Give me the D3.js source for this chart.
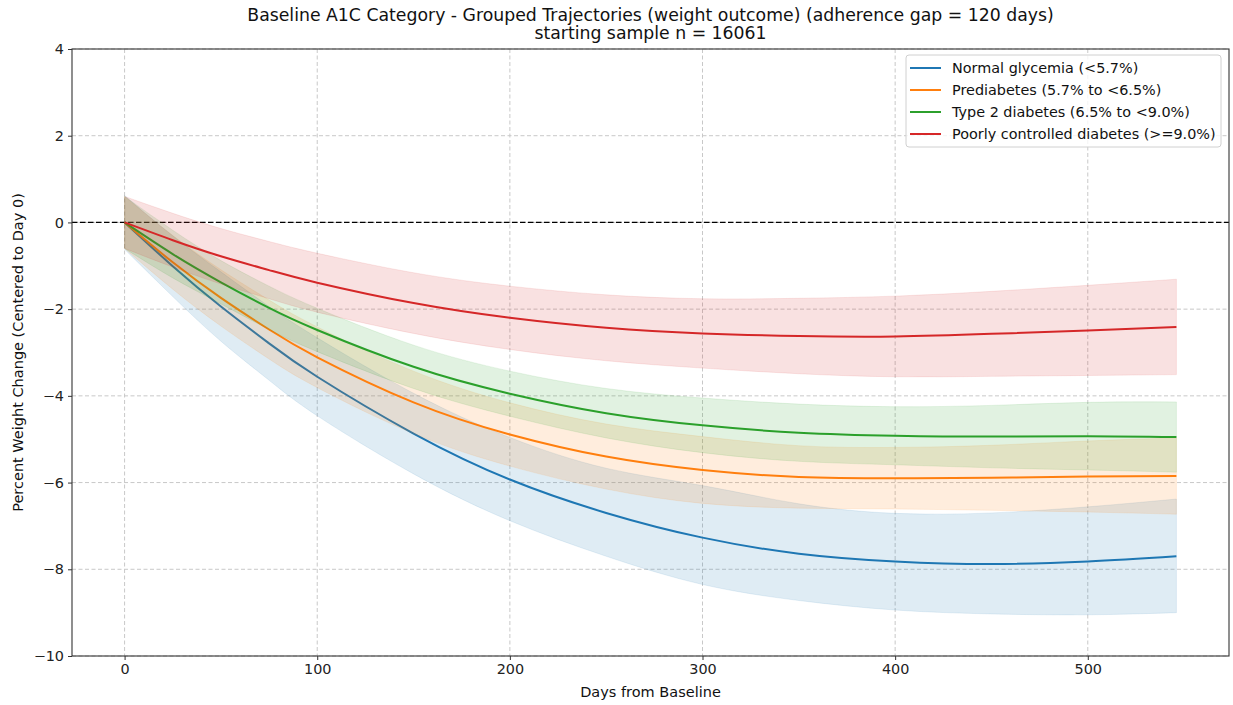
<!DOCTYPE html>
<html>
<head>
<meta charset="utf-8">
<script src="https://cdn.jsdelivr.net/npm/d3@7"></script>
<style>
  html, body { margin: 0; padding: 0; background: #fff; }
  svg { display: block; font-family: "DejaVu Sans", sans-serif; }
</style>
</head>
<body>
<svg id="chart" width="1233" height="705"></svg>
<script>
// Days from baseline at which each trajectory is sampled
const days = [0, 25, 50, 75, 100, 150, 200, 250, 300, 350, 400, 450, 500, 546];

const groupNames = [
  "Normal glycemia (<5.7%)",
  "Prediabetes (5.7% to <6.5%)",
  "Type 2 diabetes (6.5% to <9.0%)",
  "Poorly controlled diabetes (>=9.0%)"
];
const groupColors = ["#1f77b4", "#ff7f0e", "#2ca02c", "#d62728"];

// Mean percent weight change per group
const normalMean = [0, -1.01, -1.94, -2.79, -3.56, -4.87, -5.93, -6.70, -7.27, -7.64, -7.82, -7.88, -7.82, -7.70];
const prediabMean = [0, -0.92, -1.74, -2.47, -3.11, -4.15, -4.89, -5.40, -5.71, -5.87, -5.90, -5.89, -5.86, -5.85];
const t2dMean = [0, -0.73, -1.38, -1.97, -2.48, -3.33, -3.95, -4.40, -4.68, -4.85, -4.92, -4.94, -4.93, -4.95];
const poorMean = [0, -0.41, -0.78, -1.10, -1.39, -1.86, -2.20, -2.43, -2.56, -2.62, -2.63, -2.57, -2.49, -2.41];

// Confidence band edges per group
const normalUpper = [0.62, -0.31, -1.14, -1.94, -2.66, -3.94, -4.96, -5.67, -6.07, -6.49, -6.71, -6.70, -6.56, -6.38];
const normalLower = [-0.62, -1.71, -2.74, -3.64, -4.46, -5.80, -6.88, -7.70, -8.35, -8.72, -8.94, -9.03, -9.05, -9.00];
const prediabUpper = [0.60, -0.30, -1.09, -1.79, -2.41, -3.43, -4.16, -4.65, -4.94, -5.15, -5.19, -5.14, -5.04, -4.97];
const prediabLower = [-0.60, -1.54, -2.39, -3.15, -3.81, -4.87, -5.62, -6.15, -6.48, -6.59, -6.61, -6.64, -6.68, -6.73];
const t2dUpper = [0.60, -0.18, -0.88, -1.47, -1.98, -2.83, -3.43, -3.83, -4.05, -4.19, -4.25, -4.22, -4.15, -4.14];
const t2dLower = [-0.60, -1.28, -1.88, -2.47, -2.98, -3.83, -4.47, -4.97, -5.31, -5.51, -5.59, -5.66, -5.71, -5.76];
const poorUpper = [0.60, 0.21, -0.14, -0.44, -0.71, -1.16, -1.47, -1.67, -1.76, -1.75, -1.70, -1.59, -1.45, -1.31];
const poorLower = [-0.60, -1.03, -1.42, -1.76, -2.07, -2.56, -2.93, -3.19, -3.36, -3.49, -3.56, -3.55, -3.53, -3.51];

const xTicks = [0, 100, 200, 300, 400, 500];
const yTicks = [-10, -8, -6, -4, -2, 0, 2, 4];

const titleLines = [
  "Baseline A1C Category - Grouped Trajectories (weight outcome) (adherence gap = 120 days)",
  "starting sample n = 16061"
];
const xLabel = "Days from Baseline";
const yLabel = "Percent Weight Change (Centered to Day 0)";

const groups = [
  { mean: normalMean, upper: normalUpper, lower: normalLower },
  { mean: prediabMean, upper: prediabUpper, lower: prediabLower },
  { mean: t2dMean, upper: t2dUpper, lower: t2dLower },
  { mean: poorMean, upper: poorUpper, lower: poorLower }
].map((g, i) => ({ ...g, name: groupNames[i], color: groupColors[i] }));

const svg = d3.select("#chart");
const plot = { left: 72, right: 1229, top: 49, bottom: 656 };

const x = d3.scaleLinear().domain([-27.3, 573.3]).range([plot.left, plot.right]);
const y = d3.scaleLinear().domain([-10, 4]).range([plot.bottom, plot.top]);

// Grid
const grid = svg.append("g");
grid.selectAll("line.gx").data(xTicks).join("line")
  .attr("x1", d => x(d)).attr("x2", d => x(d))
  .attr("y1", plot.top).attr("y2", plot.bottom)
  .attr("stroke", "#c8c8c8").attr("stroke-width", 1).attr("stroke-dasharray", "4,2.5");
grid.selectAll("line.gy").data(yTicks).join("line")
  .attr("x1", plot.left).attr("x2", plot.right)
  .attr("y1", d => y(d)).attr("y2", d => y(d))
  .attr("stroke", "#c8c8c8").attr("stroke-width", 1).attr("stroke-dasharray", "4,2.5");

// Zero reference line
svg.append("line")
  .attr("x1", plot.left).attr("x2", plot.right)
  .attr("y1", y(0)).attr("y2", y(0))
  .attr("stroke", "#000").attr("stroke-width", 1.3).attr("stroke-dasharray", "5.5,2.5");

const lineGen = d3.line().x((d, i) => x(days[i])).y(d => y(d)).curve(d3.curveNatural);
const areaGen = d3.area()
  .x(d => x(d.day)).y0(d => y(d.lo)).y1(d => y(d.hi))
  .curve(d3.curveNatural);

const marks = svg.append("g");
groups.forEach(g => {
  marks.append("path")
    .attr("d", lineGen(g.mean))
    .attr("fill", "none").attr("stroke", g.color).attr("stroke-width", 2);
  const band = days.map((d, i) => ({ day: d, lo: g.lower[i], hi: g.upper[i] }));
  marks.append("path")
    .attr("d", areaGen(band))
    .attr("fill", g.color).attr("fill-opacity", 0.14)
    .attr("stroke", g.color).attr("stroke-opacity", 0.1).attr("stroke-width", 1);
});

// Axes
const xAxis = d3.axisBottom(x).tickValues(xTicks).tickSize(4).tickPadding(4).tickFormat(d3.format("d"));
const yAxis = d3.axisLeft(y).tickValues(yTicks).tickSize(4).tickPadding(4)
  .tickFormat(d => d < 0 ? "\u2212" + Math.abs(d) : String(d));

const gx = svg.append("g").attr("transform", `translate(0,${plot.bottom})`).call(xAxis);
const gy = svg.append("g").attr("transform", `translate(${plot.left},0)`).call(yAxis);
[gx, gy].forEach(g => {
  g.select(".domain").remove();
  g.selectAll(".tick line").attr("stroke", "#333").attr("stroke-width", 1);
  g.selectAll(".tick text").attr("fill", "#222").style("font-size", "14.4px")
    .style("font-family", "DejaVu Sans, sans-serif");
});

// Frame
svg.append("rect")
  .attr("x", plot.left).attr("y", plot.top)
  .attr("width", plot.right - plot.left).attr("height", plot.bottom - plot.top)
  .attr("fill", "none").attr("stroke", "#333").attr("stroke-width", 1.1);

// Titles and labels
const cx = (plot.left + plot.right) / 2;
svg.append("text").attr("x", cx).attr("y", 20.5).attr("text-anchor", "middle")
  .style("font-size", "17.3px").attr("fill", "#111").text(titleLines[0]);
svg.append("text").attr("x", cx).attr("y", 39).attr("text-anchor", "middle")
  .style("font-size", "17.3px").attr("fill", "#111").text(titleLines[1]);
svg.append("text").attr("x", cx).attr("y", 697).attr("text-anchor", "middle")
  .style("font-size", "14.5px").attr("fill", "#111").text(xLabel);
svg.append("text").attr("transform", `translate(23,${(plot.top + plot.bottom) / 2}) rotate(-90)`)
  .attr("text-anchor", "middle").style("font-size", "14.5px").attr("fill", "#111").text(yLabel);

// Legend
const legend = svg.append("g").attr("transform", "translate(906,55)");
legend.append("rect")
  .attr("width", 315).attr("height", 92).attr("rx", 3)
  .attr("fill", "#fff").attr("fill-opacity", 0.8)
  .attr("stroke", "#d0d0d0").attr("stroke-width", 1);
groups.forEach((g, i) => {
  const row = legend.append("g").attr("transform", `translate(0,${13 + i * 22})`);
  row.append("line").attr("x1", 4).attr("x2", 35).attr("y1", 0).attr("y2", 0)
    .attr("stroke", g.color).attr("stroke-width", 2);
  row.append("text").attr("x", 46).attr("y", 5).style("font-size", "14.4px")
    .attr("fill", "#111").text(g.name);
});
</script>
</body>
</html>
